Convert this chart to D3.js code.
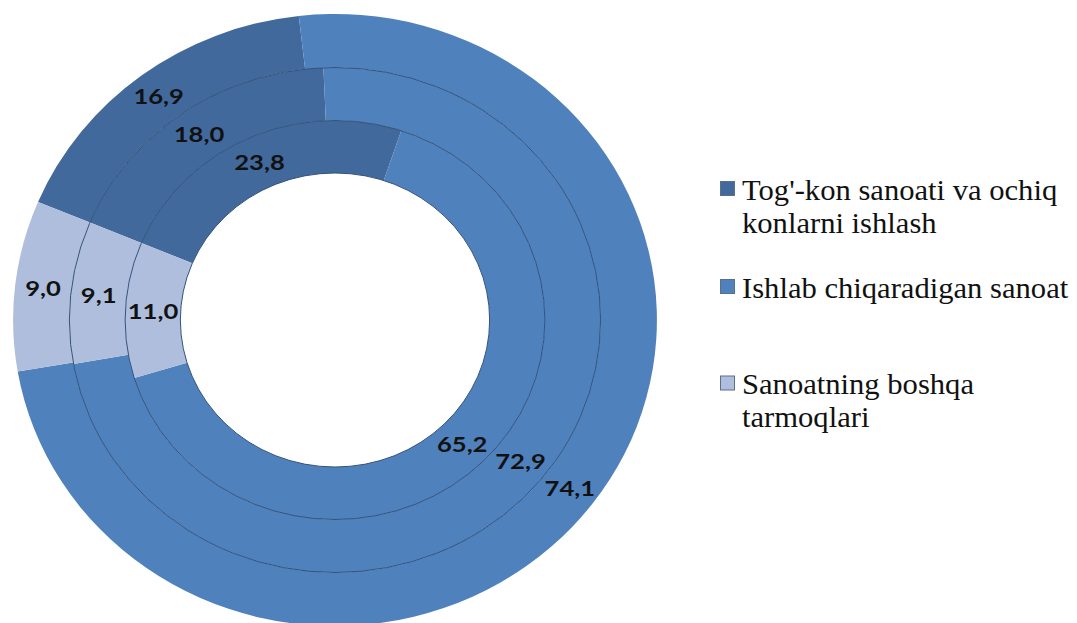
<!DOCTYPE html>
<html><head><meta charset="utf-8">
<script src="https://cdn.jsdelivr.net/npm/d3@7"></script>
<style>html,body{margin:0;padding:0;background:#fff;}svg{display:block;}</style>
</head><body>
<svg id="chart" width="1077" height="623"></svg>
<script>
// ---- data ----
const categories = ["Tog'-kon sanoati va ochiq konlarni ishlash", "Ishlab chiqaradigan sanoat", "Sanoatning boshqa tarmoqlari"];
const legendLines = [["Tog'-kon sanoati va ochiq", "konlarni ishlash"], ["Ishlab chiqaradigan sanoat"], ["Sanoatning boshqa", "tarmoqlari"]];
const innerValues = [23.8, 65.2, 11.0];
const middleValues = [18.0, 72.9, 9.1];
const outerValues = [16.9, 74.1, 9.0];
const ringValues = [innerValues, middleValues, outerValues];
const colors = ["#41699c", "#4f81bd", "#aebedc"];

// ---- layout ----
const svg = d3.select("#chart");
const cx = 335, cy = 320, sx = 1.052;
const radii = [147, 199.5, 252.5, 306];
const startAngle = -67.3 * Math.PI / 180;

const pie = d3.pie().sort(null).value(d => d)
  .startAngle(startAngle).endAngle(startAngle + 2 * Math.PI);

const g = svg.append("g").attr("transform", `translate(${cx},${cy}) scale(${sx},1)`);

ringValues.forEach((vals, ri) => {
  const arc = d3.arc().innerRadius(radii[ri]).outerRadius(radii[ri + 1]);
  g.selectAll(null).data(pie(vals)).enter().append("path")
    .attr("d", arc).attr("fill", (d, i) => colors[i]).attr("stroke", "none");
});
// ring separators
[radii[0], radii[1], radii[2]].forEach(r => {
  g.append("circle").attr("r", r).attr("fill", "none")
    .attr("stroke", "#34527a").attr("stroke-width", 1).attr("vector-effect", "non-scaling-stroke");
});

// labels
const fmt = v => d3.format(".1f")(v).replace(".", ",");
ringValues.forEach((vals, ri) => {
  const arc = d3.arc().innerRadius(radii[ri]).outerRadius(radii[ri + 1]);
  pie(vals).forEach(d => {
    const [x, y] = arc.centroid(d);
    const px = cx + x * sx, py = cy + y;
    svg.append("text")
      .attr("transform", `translate(${px},${py}) scale(1.28,1)`)
      .attr("text-anchor", "middle").attr("dominant-baseline", "central")
      .attr("font-family", "Lato, 'Open Sans', sans-serif").attr("font-weight", "bold")
      .attr("font-size", 20).attr("fill", "#111")
      .text(fmt(d.data));
  });
});

// legend
const legY = [188.5, 286.5, 383];
const lg = svg.append("g");
legendLines.forEach((lines, i) => {
  lg.append("rect").attr("x", 720.5).attr("y", legY[i] - 7).attr("width", 14).attr("height", 14)
    .attr("fill", colors[i]).attr("stroke", "#5a6f8c").attr("stroke-width", 1);
  lines.forEach((t, j) => {
    lg.append("text")
      .attr("transform", `translate(742,${legY[i] + 11 + j * 33}) scale(1.02,1)`)
      .attr("font-family", "'Liberation Serif', 'Times New Roman', serif")
      .attr("font-size", 30).attr("fill", "#111").text(t);
  });
});
</script>
</body></html>
